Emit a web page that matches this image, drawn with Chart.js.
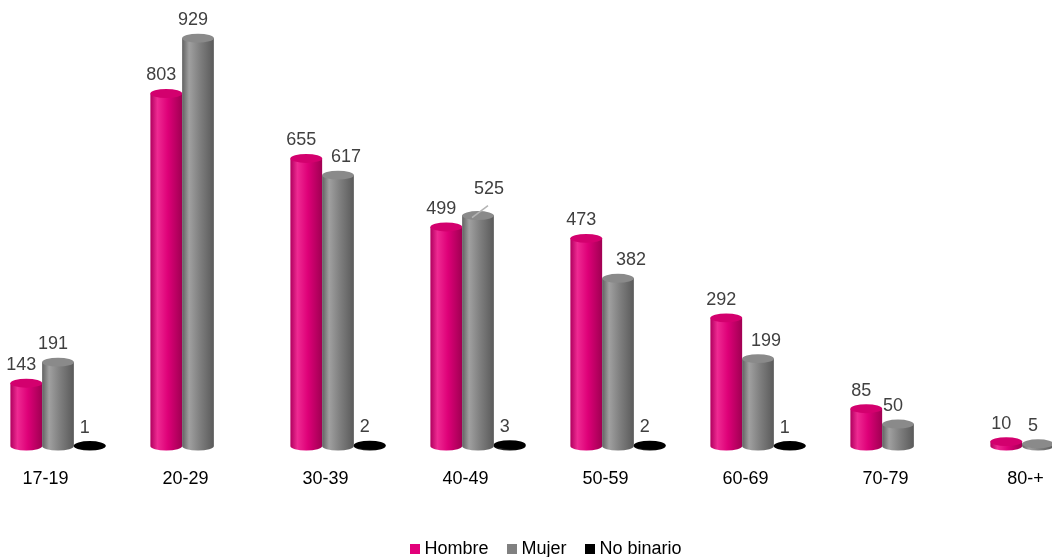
<!DOCTYPE html>
<html>
<head>
<meta charset="utf-8">
<script src="https://cdn.jsdelivr.net/npm/chart.js@4/dist/chart.umd.min.js"></script>
<style>
  html, body { margin: 0; padding: 0; background: #fff; overflow: hidden; }
  #wrap { position: relative; left: -12px; width: 1120px; height: 557px; }
</style>
</head>
<body>
<div id="wrap"><canvas id="chart"></canvas></div>
<script>
const categories = ['17-19', '20-29', '30-39', '40-49', '50-59', '60-69', '70-79', '80-+'];
const hombre = [143, 803, 655, 499, 473, 292, 85, 10];
const mujer = [191, 929, 617, 525, 382, 199, 50, 5];
const noBinario = [1, null, 2, 3, 2, 1, null, null];
const seriesNames = ['Hombre', 'Mujer', 'No binario'];
const seriesColors = ['#e2007a', '#808080', '#000000'];

const FONT = '"Liberation Sans", Arial, sans-serif';

// side shading for each cylinder: [left edge, highlight, body, right edge, top]
const shades = [
  ['#b0005e', '#ee2a92', '#de0078', '#a00052', '#d3006e'],
  ['#626262', '#a0a0a0', '#808080', '#5a5a5a', '#8a8a8a'],
  ['#000000', '#2a2a2a', '#0a0a0a', '#000000', '#000000']
];

// labels nudged sideways to clear the neighbouring bar (dataset:index -> px)
const labelNudge = { '1:2': 13, '1:4': 18, '1:5': 13 };

// small square images used as legend markers
function legendBox(color) {
  const c = document.createElement('canvas');
  c.width = 10;
  c.height = 10;
  const g = c.getContext('2d');
  g.fillStyle = color;
  g.fillRect(0, 0, 10, 10);
  return c;
}

const cylinders = {
  id: 'cylinders',
  beforeDatasetDraw() { return false; },
  afterDatasetsDraw(chart) {
    const ctx = chart.ctx;
    chart.data.datasets.forEach((ds, di) => {
      const meta = chart.getDatasetMeta(di);
      const s = shades[di];
      meta.data.forEach((bar, i) => {
        const v = ds.data[i];
        if (v === null || v === undefined) return;
        const w = bar.width;
        const left = bar.x - w / 2;
        const ry = w * 0.14;
        const top = bar.y;
        const base = bar.base;
        ctx.save();
        const g = ctx.createLinearGradient(left, 0, left + w, 0);
        g.addColorStop(0, s[0]);
        g.addColorStop(0.22, s[1]);
        g.addColorStop(0.55, s[2]);
        g.addColorStop(1, s[3]);
        ctx.fillStyle = g;
        ctx.beginPath();
        ctx.moveTo(left, top);
        ctx.lineTo(left, base);
        ctx.ellipse(bar.x, base, w / 2, ry, 0, Math.PI, 0, true);
        ctx.lineTo(left + w, top);
        ctx.closePath();
        ctx.fill();
        ctx.fillStyle = s[4];
        ctx.beginPath();
        ctx.ellipse(bar.x, top, w / 2, ry, 0, 0, Math.PI * 2);
        ctx.fill();
        ctx.restore();

        // value label
        let lx = bar.x - 5 + (labelNudge[di + ':' + i] || 0);
        let ly = top - 18;
        if (di === 1 && i === 3) {
          lx = bar.x + 11;
          ly = top - 27;
          ctx.strokeStyle = '#b4b4b4';
          ctx.lineWidth = 1.5;
          ctx.beginPath();
          ctx.moveTo(bar.x - 6, top + 2);
          ctx.lineTo(bar.x + 10, top - 10);
          ctx.stroke();
        }
        ctx.fillStyle = '#404040';
        ctx.font = '18px ' + FONT;
        ctx.textAlign = 'center';
        ctx.textBaseline = 'middle';
        ctx.fillText(String(v), lx, ly);
      });
    });
  }
};

new Chart(document.getElementById('chart'), {
  type: 'bar',
  data: {
    labels: categories,
    datasets: [hombre, mujer, noBinario].map((d, i) => ({
      label: seriesNames[i],
      data: d,
      backgroundColor: seriesColors[i],
      categoryPercentage: 0.68,
      barPercentage: 1
    }))
  },
  options: {
    responsive: true,
    maintainAspectRatio: false,
    animation: false,
    layout: { padding: { top: 0, bottom: -11, left: 0, right: 0 } },
    plugins: {
      tooltip: { enabled: false },
      legend: {
        position: 'bottom',
        labels: {
          usePointStyle: true,
          boxWidth: 1,
          boxHeight: 10,
          padding: 23,
          color: '#1a1a1a',
          font: { family: FONT, size: 18 },
          generateLabels: () => seriesNames.map((n, i) => ({
            text: n,
            fillStyle: seriesColors[i],
            strokeStyle: seriesColors[i],
            lineWidth: 0,
            pointStyle: legendBox(seriesColors[i]),
            hidden: false,
            datasetIndex: i
          }))
        }
      }
    },
    scales: {
      x: {
        grid: { display: false },
        border: { display: false },
        afterFit: scale => { scale.height = 71; },
        ticks: {
          color: '#000',
          padding: 14,
          labelOffset: -12.5,
          font: { family: FONT, size: 18 }
        }
      },
      y: { display: false, min: 0, max: 1016 }
    }
  },
  plugins: [cylinders]
});
</script>
</body>
</html>
